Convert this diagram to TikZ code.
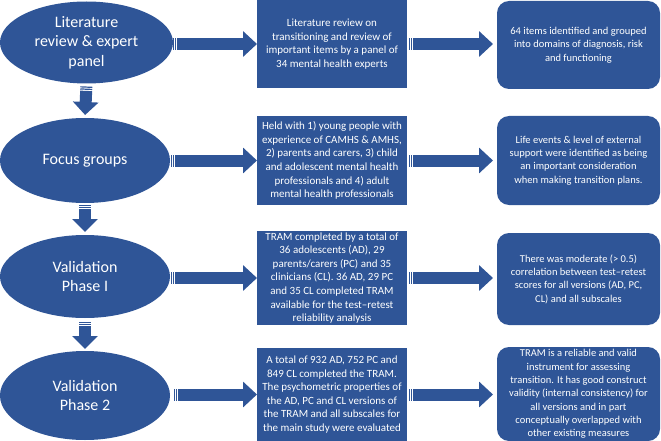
\documentclass[tikz,border=0pt]{standalone}
\usepackage{fontspec}
\setmainfont{Carlito}
\usetikzlibrary{arrows.meta,shapes.geometric}
\definecolor{stageblue}{RGB}{47,85,151}
\tikzset{
  stage/.style={ellipse,fill=stageblue,text=white,inner sep=0pt,outer sep=0pt,
    minimum width=170pt,align=center,font=\fontsize{16}{19.5}\selectfont},
  detail/.style={rectangle,fill=stageblue,text=white,inner sep=0pt,outer sep=0pt,
    minimum width=150pt,align=center,font=\fontsize{11}{13.6}\selectfont},
  outcome/.style={rectangle,rounded corners=12pt,fill=stageblue,text=white,inner sep=0pt,
    outer sep=0pt,minimum width=163pt,align=center,font=\fontsize{10.5}{13.3}\selectfont},
  rightarrow/.style={draw=stageblue,line width=12pt,
    dash pattern=on 1.2pt off 0.9pt on 1.2pt off 1.1pt on 400pt off 0pt,
    -{Triangle[width=25pt,length=14pt]}},
  downarrow/.style={draw=stageblue,line width=12pt,
    dash pattern=on 1.2pt off 0.9pt on 1.2pt off 1.1pt on 400pt off 0pt,
    -{Triangle[width=25pt,length=13pt]}}
}
\begin{document}
\begin{tikzpicture}[x=1pt,y=-1pt]
\useasboundingbox (0,0) rectangle (661,441);
\node[stage,minimum width=173pt,minimum height=82pt](e1)at(86.5,42.5){Literature\\review \& expert\\panel};
\node[stage,minimum height=85pt](e2)at(85,160.5){Focus groups};
\node[stage,minimum height=83pt](e3)at(85,276.5){Validation\\Phase I};
\node[stage,minimum height=89pt](e4)at(85,395.5){Validation\\Phase 2};

\node[detail,minimum height=88pt](b1)at(332,44){Literature review on\\transitioning and review of\\important items by a panel of\\34 mental health experts};
\node[detail,minimum height=89pt](b2)at(332,160.5){Held with 1) young people with\\experience of CAMHS \& AMHS,\\2) parents and carers, 3) child\\and adolescent mental health\\professionals and 4) adult\\mental health professionals};
\node[detail,minimum height=94pt](b3)at(332,278){TRAM completed by a total of\\36 adolescents (AD), 29\\parents/carers (PC) and 35\\clinicians (CL). 36 AD, 29 PC\\and 35 CL completed TRAM\\available for the test--retest\\reliability analysis};
\node[detail,minimum height=93pt](b4)at(332,394.5){A total of 932 AD, 752 PC and\\849 CL completed the TRAM.\\The psychometric properties of\\the AD, PC and CL versions of\\the TRAM and all subscales for\\the main study were evaluated};

\node[outcome,minimum height=88pt](r1)at(578.5,45){64 items identified and grouped\\into domains of diagnosis, risk\\and functioning};
\node[outcome,minimum height=89pt](r2)at(578.5,160.5){Life events \& level of external\\support were identified as being\\an important consideration\\when making transition plans.};
\node[outcome,minimum height=92pt](r3)at(578.5,279){There was moderate (> 0.5)\\correlation between test--retest\\scores for all versions (AD, PC,\\CL) and all subscales};
\node[outcome,minimum height=94pt](r4)at(578.5,394){TRAM is a reliable and valid\\instrument for assessing\\transition. It has good construct\\validity (internal consistency) for\\all versions and in part\\conceptually overlapped with\\other existing measures};

\draw[rightarrow](e1.east|-b1.west)--(b1.west);
\draw[rightarrow,shorten <=1pt](e2.east|-b2.west)--(b2.west);
\draw[rightarrow,shorten <=1pt](e3.east|-b3.west)--(b3.west);
\draw[rightarrow,shorten <=4pt](e4.east|-b4.west)--(b4.west);

\draw[rightarrow,shorten <=2pt,shorten >=4pt](b1.east)--(b1.east-|r1.west);
\draw[rightarrow,shorten <=2pt,shorten >=4pt](b2.east)--(b2.east-|r2.west);
\draw[rightarrow,shorten <=2pt,shorten >=4pt](b3.east)--(b3.east-|r3.west);
\draw[rightarrow,shorten <=2pt,shorten >=4pt](b4.east)--(b4.east-|r4.west);

\draw[downarrow,shorten <=3pt,shorten >=3pt](e1.south)--(e2.north);
\draw[downarrow,shorten <=2pt,shorten >=3pt](e2.south)--(e3.north);
\draw[downarrow,shorten <=4pt,shorten >=2pt](e3.south)--(e4.north);

\end{tikzpicture}
\end{document}
